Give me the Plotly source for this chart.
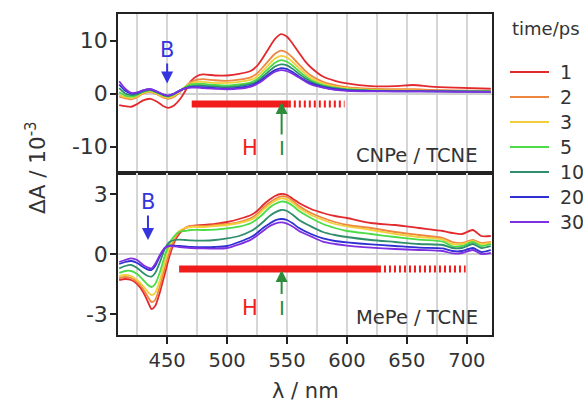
import plotly.graph_objects as go
from plotly.subplots import make_subplots

# ---- transient spectra, CNPe / TCNE (dA in units of 1e-3) ----
wl_cnpe = [410, 415, 420, 425, 430, 436, 442, 447, 451, 456, 461, 466, 470, 475,
           480, 490, 500, 510, 520, 525, 530, 535, 540, 545, 550, 555, 560, 565,
           570, 580, 590, 600, 620, 640, 655, 670, 690, 720]

cnpe_1ps = [-2.2, -2.4, -2.5, -2.0, -1.3, -1.0, -1.6, -2.4, -2.7, -2.2, -1.0, 0.8, 2.4, 3.3,
            3.6, 3.4, 3.4, 3.7, 4.3, 5.2, 6.8, 8.6, 10.3, 11.2, 10.7, 9.3, 7.7, 6.1,
            4.9, 3.2, 2.4, 1.9, 1.4, 1.4, 1.6, 1.3, 1.1, 0.9]
cnpe_2ps = [-0.6, -0.9, -1.1, -0.7, 0.0, 0.3, -0.2, -0.8, -1.0, -0.6, 0.3, 1.5, 2.2, 2.6,
            2.7, 2.5, 2.4, 2.6, 3.1, 3.8, 5.0, 6.3, 7.5, 8.1, 7.7, 6.7, 5.5, 4.3,
            3.4, 2.2, 1.6, 1.2, 0.9, 0.8, 0.8, 0.7, 0.6, 0.5]
cnpe_3ps = [-0.3, -0.7, -0.9, -0.5, 0.1, 0.4, -0.1, -0.6, -0.8, -0.4, 0.5, 1.4, 1.9, 2.2,
            2.2, 2.0, 2.0, 2.2, 2.6, 3.2, 4.3, 5.5, 6.6, 7.1, 6.8, 5.9, 4.8, 3.8,
            2.9, 1.9, 1.3, 1.0, 0.7, 0.6, 0.6, 0.5, 0.5, 0.4]
cnpe_5ps = [0.3, -0.4, -0.6, -0.3, 0.3, 0.6, 0.1, -0.4, -0.6, -0.2, 0.6, 1.3, 1.7, 1.8,
            1.8, 1.6, 1.5, 1.7, 2.1, 2.7, 3.7, 4.8, 5.8, 6.3, 6.0, 5.2, 4.2, 3.3,
            2.5, 1.6, 1.1, 0.8, 0.6, 0.5, 0.5, 0.5, 0.4, 0.4]
cnpe_10ps = [1.0, 0.0, -0.3, -0.1, 0.4, 0.7, 0.2, -0.3, -0.5, -0.1, 0.6, 1.1, 1.4, 1.5,
             1.5, 1.3, 1.2, 1.4, 1.8, 2.3, 3.2, 4.2, 5.1, 5.5, 5.3, 4.6, 3.7, 2.9,
             2.2, 1.4, 1.0, 0.7, 0.5, 0.5, 0.5, 0.4, 0.4, 0.4]
cnpe_20ps = [1.7, 0.5, 0.0, 0.1, 0.6, 0.8, 0.3, -0.2, -0.4, 0.0, 0.6, 1.0, 1.2, 1.2,
             1.2, 1.0, 0.9, 1.1, 1.5, 2.0, 2.8, 3.7, 4.4, 4.8, 4.6, 4.0, 3.2, 2.5,
             1.9, 1.2, 0.8, 0.6, 0.5, 0.4, 0.4, 0.4, 0.4, 0.3]
cnpe_30ps = [2.3, 0.9, 0.1, 0.2, 0.6, 0.8, 0.3, -0.2, -0.4, 0.0, 0.6, 1.0, 1.1, 1.1,
             1.0, 0.9, 0.8, 0.9, 1.3, 1.8, 2.5, 3.4, 4.1, 4.4, 4.2, 3.7, 3.0, 2.3,
             1.7, 1.1, 0.7, 0.5, 0.4, 0.4, 0.4, 0.4, 0.3, 0.3]

# ---- transient spectra, MePe / TCNE (dA in units of 1e-3) ----
wl_mepe = [410, 415, 420, 425, 430, 434, 437, 440, 444, 448, 452, 456, 460, 465,
           470, 480, 490, 500, 510, 520, 525, 530, 535, 540, 545, 550, 555, 560,
           570, 580, 590, 600, 620, 640, 660, 680, 688, 696, 705, 712, 720]

mepe_1ps = [-1.3, -1.25, -1.3, -1.5, -1.9, -2.4, -2.75, -2.6, -1.9, -1.0, -0.1, 0.6, 1.0, 1.3,
            1.4, 1.45, 1.5, 1.6, 1.75, 1.95, 2.15, 2.45, 2.7, 2.9, 3.0, 2.95, 2.75, 2.55,
            2.25, 2.05, 1.9, 1.8, 1.55, 1.45, 1.3, 1.15, 1.05, 1.0, 1.2, 0.9, 0.9]
mepe_2ps = [-1.2, -1.15, -1.2, -1.4, -1.75, -2.15, -2.4, -2.3, -1.6, -0.7, 0.1, 0.7, 1.1, 1.3,
            1.4, 1.4, 1.45, 1.5, 1.6, 1.8, 2.0, 2.3, 2.55, 2.75, 2.88, 2.85, 2.65, 2.4,
            2.05, 1.8, 1.6, 1.45, 1.3, 1.1, 0.95, 0.8, 0.6, 0.55, 0.7, 0.55, 0.6]
mepe_3ps = [-1.1, -1.05, -1.1, -1.3, -1.6, -1.9, -2.05, -1.95, -1.3, -0.4, 0.35, 0.85, 1.15, 1.3,
            1.35, 1.35, 1.4, 1.45, 1.55, 1.72, 1.9, 2.2, 2.45, 2.65, 2.78, 2.72, 2.55, 2.3,
            1.95, 1.7, 1.5, 1.38, 1.2, 1.0, 0.85, 0.72, 0.5, 0.5, 0.65, 0.5, 0.55]
mepe_5ps = [-0.95, -0.85, -0.85, -1.0, -1.3, -1.55, -1.65, -1.5, -0.9, -0.1, 0.55, 0.9, 1.1, 1.15,
            1.2, 1.2, 1.22, 1.28, 1.37, 1.55, 1.75, 2.0, 2.3, 2.5, 2.62, 2.58, 2.4, 2.15,
            1.8, 1.5, 1.3, 1.15, 1.0, 0.85, 0.72, 0.62, 0.38, 0.4, 0.6, 0.4, 0.5]
mepe_10ps = [-0.72, -0.6, -0.55, -0.7, -0.95, -1.1, -1.13, -0.95, -0.4, 0.25, 0.6, 0.7, 0.72, 0.7,
             0.68, 0.67, 0.7, 0.78, 0.9, 1.15, 1.35, 1.6, 1.88, 2.08, 2.2, 2.15, 1.95, 1.7,
             1.38, 1.1, 0.95, 0.85, 0.7, 0.6, 0.5, 0.45, 0.3, 0.3, 0.5, 0.3, 0.4]
mepe_20ps = [-0.5, -0.4, -0.35, -0.45, -0.65, -0.78, -0.8, -0.6, -0.1, 0.3, 0.42, 0.42, 0.4, 0.38,
             0.36, 0.34, 0.35, 0.4, 0.6, 0.85, 1.05, 1.3, 1.5, 1.68, 1.75, 1.7, 1.52, 1.3,
             1.0, 0.78, 0.65, 0.58, 0.48, 0.4, 0.32, 0.28, 0.15, 0.15, 0.3, 0.1, 0.2]
mepe_30ps = [-0.4, -0.3, -0.22, -0.3, -0.55, -0.68, -0.72, -0.5, -0.05, 0.3, 0.4, 0.38, 0.35, 0.32,
             0.3, 0.28, 0.27, 0.3, 0.48, 0.72, 0.92, 1.15, 1.38, 1.52, 1.58, 1.52, 1.36, 1.15,
             0.88, 0.62, 0.5, 0.42, 0.32, 0.25, 0.2, 0.15, 0.03, 0.05, 0.2, 0.0, 0.05]

delays = ["1", "2", "3", "5", "10", "20", "30"]
colors = ["#e22a2e", "#ef8640", "#f1cf3a", "#4cdc46", "#2f8f6c", "#2f2fd2", "#7f2fe2"]
cnpe_series = [cnpe_1ps, cnpe_2ps, cnpe_3ps, cnpe_5ps, cnpe_10ps, cnpe_20ps, cnpe_30ps]
mepe_series = [mepe_1ps, mepe_2ps, mepe_3ps, mepe_5ps, mepe_10ps, mepe_20ps, mepe_30ps]

# marker positions (nm, dA)
bleach_cnpe = (450, 8.2, 1.9)      # B: x, label level, arrow tip
bleach_mepe = (434, 2.6, 0.7)
hole_cnpe = (470.5, 551.5, 598, -2.0)   # solid start, solid end, dashed end, level
hole_mepe = (460, 626.7, 699, -0.75)
ion_x = 545.5
hole_label_x = 519
ion_cnpe = (-10.3, -1.6)           # I: label level, arrow tip
ion_mepe = (-2.68, -0.8)

BLUE = "#3535e0"
RED = "#f01c1c"
GREEN = "#2e8b3a"
INK = "#333333"
FONT = "DejaVu Sans"

# plot box in pixels (used to place the key outside the axes)
L, R, T, B = 118, 492, 14, 335
W, H = 583, 402


def px(x):
    return (x - L) / (R - L)


def py(y):
    return (B - y) / (B - T)


fig = make_subplots(rows=2, cols=1, shared_xaxes=True, vertical_spacing=0)

for name, col, yc, ym in zip(delays, colors, cnpe_series, mepe_series):
    fig.add_trace(go.Scatter(x=wl_cnpe, y=yc, mode="lines", name=name, showlegend=False,
                             line=dict(color=col, width=1.8, shape="spline", smoothing=0.7)),
                  row=1, col=1)
    fig.add_trace(go.Scatter(x=wl_mepe, y=ym, mode="lines", name=name, showlegend=False,
                             line=dict(color=col, width=1.8, shape="spline", smoothing=0.7)),
                  row=2, col=1)

split = py(173)
grid25 = list(range(425, 701, 25))
major = [450, 500, 550, 600, 650, 700]

xcommon = dict(range=[409, 721], showline=True, linecolor="#222", linewidth=1.5, mirror=True,
               ticks="outside", ticklen=7, tickwidth=1.5, tickcolor="#222",
               tickvals=major, showgrid=True, gridcolor="#d6d6d6", gridwidth=1.5,
               minor=dict(tickvals=grid25, showgrid=True, gridcolor="#d6d6d6", gridwidth=1.5),
               zeroline=False, tickfont=dict(size=19.5, color=INK, family=FONT))
fig.update_xaxes(**xcommon)
fig.update_xaxes(showticklabels=False, row=1, col=1)

ycommon = dict(showline=True, linecolor="#222", linewidth=1.5, mirror=True,
               ticks="outside", ticklen=6, tickwidth=1.5, tickcolor="#222",
               ticklabelstandoff=-2,
               showgrid=False, zeroline=True, zerolinecolor="#d0d0d0", zerolinewidth=1.5,
               tickfont=dict(size=22, color=INK, family=FONT))
fig.update_yaxes(**ycommon)
fig.update_yaxes(range=[-15, 15], tickvals=[-10, 0, 10], ticktext=["-10", "0", "10"],
                 domain=[split, 1], row=1, col=1)
fig.update_yaxes(range=[-4.05, 4.05], tickvals=[-3, 0, 3], ticktext=["-3", "0", "3"],
                 domain=[0, split], row=2, col=1)

shapes = []
anns = []
for xr, yr, bl, hole, ion, label in [("x", "y", bleach_cnpe, hole_cnpe, ion_cnpe, "CNPe / TCNE"),
                                      ("x2", "y2", bleach_mepe, hole_mepe, ion_mepe, "MePe / TCNE")]:
    x0, x1, x2, lv = hole
    shapes.append(dict(type="line", xref=xr, yref=yr, x0=x0, x1=x1, y0=lv, y1=lv,
                       line=dict(color=RED, width=7)))
    shapes.append(dict(type="line", xref=xr, yref=yr, x0=x1, x1=x2, y0=lv, y1=lv,
                       line=dict(color=RED, width=7, dash="2px,3px")))
    # "B" label with its arrow pointing down to the bleach
    bx, blab, btip = bl
    anns.append(dict(xref=xr, yref=yr, axref=xr, ayref=yr, x=bx, y=btip, ax=bx, ay=blab,
                     text="B", showarrow=True, arrowhead=2, arrowsize=1.2, arrowwidth=2,
                     arrowcolor=BLUE, font=dict(size=21, color=BLUE, family=FONT)))
    # "I" label with its arrow pointing up to the band
    ilab, itip = ion
    anns.append(dict(xref=xr, yref=yr, axref=xr, ayref=yr, x=ion_x, y=itip, ax=ion_x, ay=ilab,
                     text="I", showarrow=True, arrowhead=2, arrowsize=1.2, arrowwidth=2,
                     arrowcolor=GREEN, font=dict(size=20, color=GREEN, family=FONT)))
    anns.append(dict(xref=xr, yref=yr, x=hole_label_x, y=ilab, yanchor="middle", text="H",
                     showarrow=False, font=dict(size=21, color=RED, family=FONT)))
    anns.append(dict(xref=xr + " domain", yref=yr + " domain", x=0.968, y=0.025,
                     xanchor="right", yanchor="bottom", text=label, showarrow=False,
                     font=dict(size=19.5, color=INK, family=FONT)))

anns.append(dict(xref="paper", yref="paper", x=px(36), y=py(168), xanchor="center",
                 yanchor="middle", textangle=-90,
                 text="ΔA / 10<sup>-3</sup>", showarrow=False,
                 font=dict(size=21.5, color=INK, family=FONT)))
anns.append(dict(xref="paper", yref="paper", x=0.5, y=py(391), xanchor="center",
                 yanchor="middle", text="λ / nm",
                 showarrow=False, font=dict(size=21, color=INK, family=FONT)))

# key for the delay times, placed to the right of the axes
anns.append(dict(xref="paper", yref="paper", x=px(510), y=py(28), xanchor="left",
                 yanchor="middle", text="time/ps", showarrow=False,
                 font=dict(size=18, color=INK, family=FONT)))
for i, (name, col) in enumerate(zip(delays, colors)):
    yk = 72 + 25 * i
    shapes.append(dict(type="line", xref="paper", yref="paper", x0=px(510), x1=px(549),
                       y0=py(yk), y1=py(yk), line=dict(color=col, width=2.2)))
    anns.append(dict(xref="paper", yref="paper", x=px(558), y=py(yk), xanchor="left",
                     yanchor="middle", text=name, showarrow=False,
                     font=dict(size=19, color=INK, family=FONT)))

fig.update_layout(
    width=W, height=H,
    margin=dict(l=L, r=W - R, t=T, b=H - B),
    paper_bgcolor="white", plot_bgcolor="white",
    font=dict(family=FONT, color=INK),
    shapes=shapes, annotations=anns, showlegend=False,
)

fig.write_html("out.html")
